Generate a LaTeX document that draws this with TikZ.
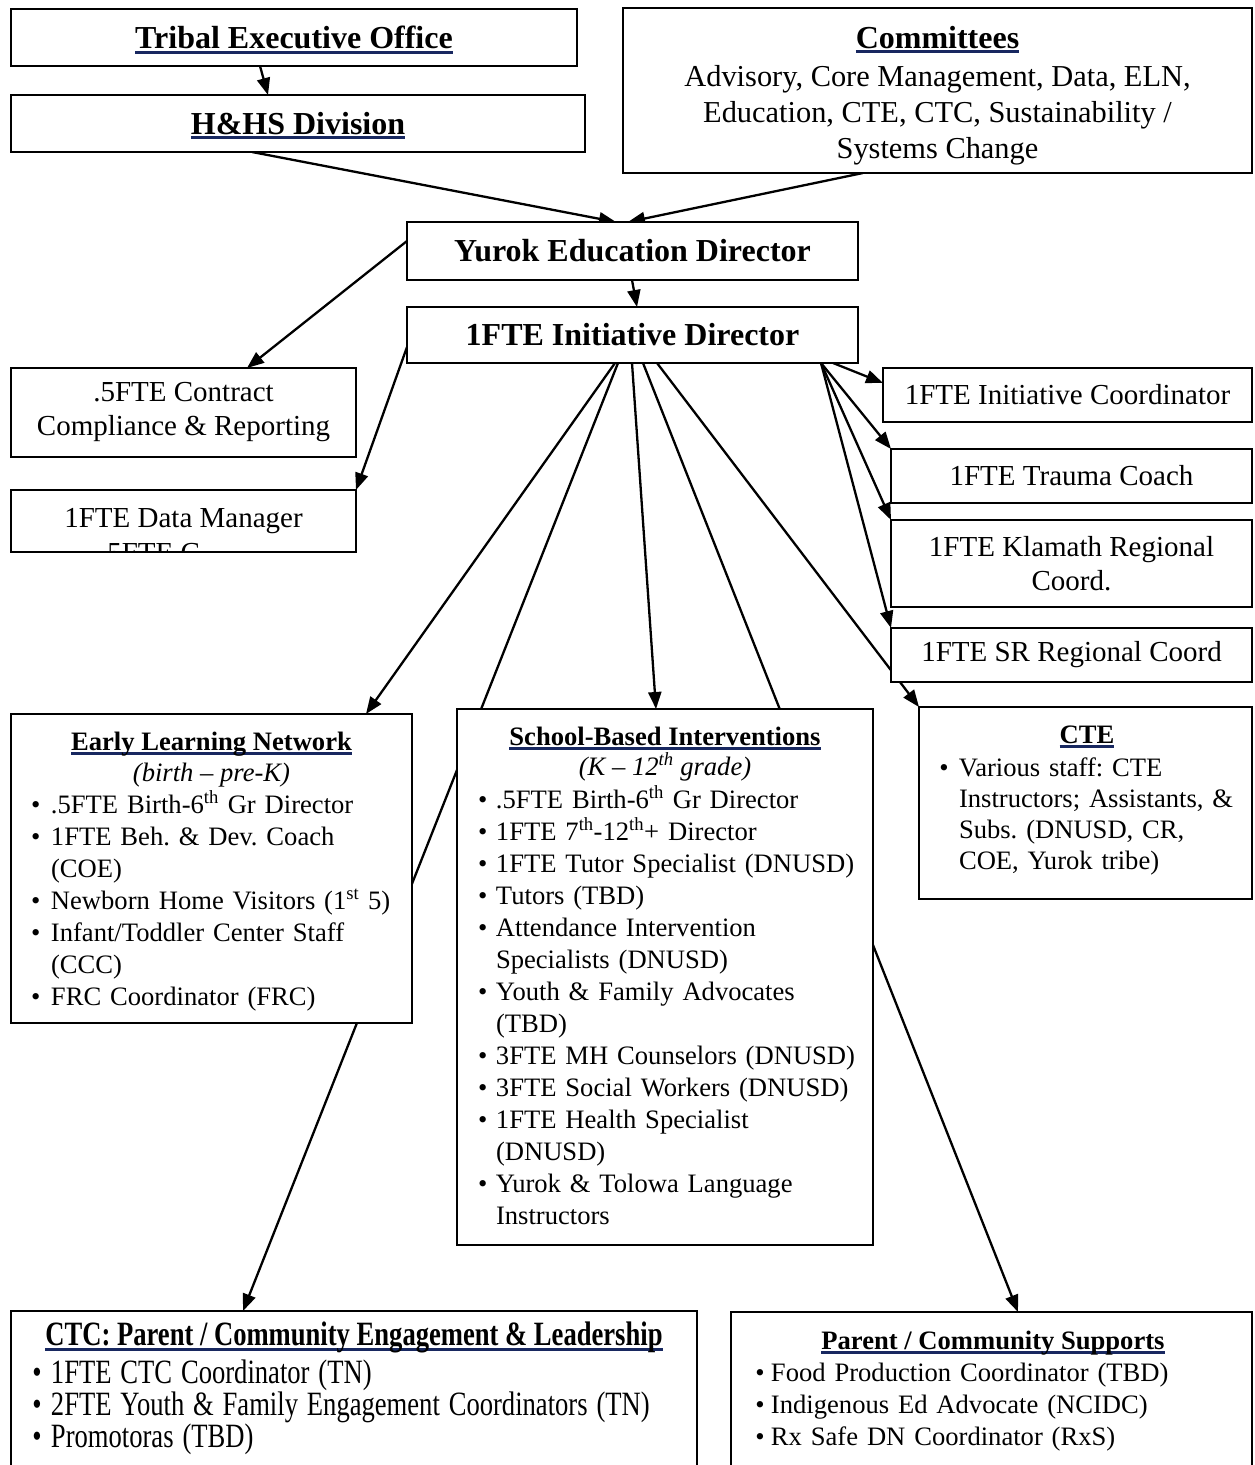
\documentclass[tikz,border=0pt]{standalone}
\usepackage{fontspec}
\setmainfont{Liberation Serif}
\usetikzlibrary{arrows.meta,backgrounds,calc}
\frenchspacing
\definecolor{navy}{RGB}{24,40,96}
\newlength\bw
\newsavebox\ulbox
\newcommand\bi[1]{\par\noindent\makebox[\bw][l]{\textbullet}#1\par}
\newcommand\bc[1]{\par\noindent\hspace*{\bw}#1\par}
\newcommand\ulc[2][5pt]{\mbox{\sbox\ulbox{#2}\raisebox{0pt}[0pt][0pt]{\rlap{\textcolor{navy}{\rule[-#1]{\wd\ulbox}{3pt}}}}\usebox\ulbox}}
\newcommand\fbody{\fontsize{26.6pt}{32pt}\selectfont\parskip=0pt\frenchspacing}
\newcommand\fbig{\fontsize{32pt}{38pt}\selectfont}
\newcommand\fmid{\fontsize{29pt}{34pt}\selectfont\frenchspacing}
\newcommand\fcom{\fontsize{30.4pt}{36pt}\selectfont\frenchspacing}
\newcommand\fcte{\fontsize{26.6pt}{31pt}\selectfont\parskip=0pt\frenchspacing}
\newcommand\fctc{\fontsize{26.6pt}{25pt}\selectfont\lineskiplimit=-100pt\parskip=0pt\frenchspacing}
\begin{document}
\begin{tikzpicture}[x=1pt,y=-1pt,
  bx/.style={draw, line width=1.8pt, fill=white, inner sep=0pt, outer sep=0pt, rectangle, align=center},
  arr/.style={-{Triangle[length=17pt,width=13pt]}, line width=2.3pt},
  txt/.style={inner sep=0pt, outer sep=0pt},
  lst/.style={inner sep=0pt, outer sep=0pt, anchor=north west}]
\useasboundingbox (0,0) rectangle (1254,1465);
\clip (0,0) rectangle (1254,1465);

% top boxes
\node[bx, minimum width=566pt, minimum height=57pt, font=\fbig\bfseries] (teo) at (294,37.5) {\ulc{Tribal Executive Office}};
\node[bx, minimum width=574pt, minimum height=57pt, font=\fbig\bfseries] (hhs) at (298,123.5) {\ulc{H\&HS Division}};
\node[bx, minimum width=629pt, minimum height=165pt] (com) at (937.5,90.5) {};
\node[txt, anchor=north, align=center, font=\fcom] (comT) at (937.5,24) {\rule{0pt}{24pt}{\fbig\bfseries\ulc{Committees}}\\[2pt]Advisory, Core Management, Data, ELN,\\Education, CTE, CTC, Sustainability /\\Systems Change};

\node[bx, minimum width=451pt, minimum height=58pt, font=\fbig\bfseries] (yed) at (632.5,251) {Yurok Education Director};
\node[bx, minimum width=451pt, minimum height=56pt, font=\fbig\bfseries] (idr) at (632.5,335) {1FTE Initiative Director};

% left small boxes
\node[bx, minimum width=345pt, minimum height=89pt, font=\fmid] (ccr) at (183.5,412.5) {.5FTE Contract\\Compliance \& Reporting};
\node[bx, minimum width=345pt, minimum height=62pt] (dm) at (183.5,521) {};
\begin{scope}
\clip (dm.south west) rectangle (dm.north east);
\node[txt, font=\fmid, anchor=base] (dmA) at (183.5,527) {1FTE Data Manager};
\node[txt, font=\fmid, anchor=base west] (dmB) at (100,562) {.5FTE C};
\end{scope}

% right small boxes
\node[bx, minimum width=369pt, minimum height=54pt, font=\fmid] (ic) at (1067.5,395) {1FTE Initiative Coordinator};
\node[bx, minimum width=361pt, minimum height=54pt, font=\fmid] (tc) at (1071.5,476) {1FTE Trauma Coach};
\node[bx, minimum width=361pt, minimum height=87pt, font=\fmid] (kr) at (1071.5,563.5) {1FTE Klamath Regional\\Coord.};
\node[bx, minimum width=361pt, minimum height=54pt, font=\fmid] (sr) at (1071.5,655) {1FTE SR Regional Coord};

% Early Learning Network
\node[bx, minimum width=401pt, minimum height=309pt] (eln) at (211.5,868.5) {};
\node[txt, anchor=north, align=center, font=\fbody] (elnT) at (211.5,726) {\rule{0pt}{24pt}{\bfseries\ulc[4.5pt]{Early Learning Network}}\\[-1pt]{\itshape (birth – pre-K)}};
\node[lst, text width=480pt, font=\fbody] (elnL) at (31,781) {\raggedright\setlength\bw{20pt}%
\bi{\rule{0pt}{24pt}.5FTE Birth-6\textsuperscript{th} Gr Director}%
\bi{1FTE Beh. \& Dev. Coach}\bc{(COE)}%
\bi{Newborn Home Visitors (1\textsuperscript{st} 5)}%
\bi{Infant/Toddler Center Staff}\bc{(CCC)}%
\bi{FRC Coordinator (FRC)}};

% School-Based Interventions
\node[bx, minimum width=416pt, minimum height=536pt] (sbi) at (665,977) {};
\node[txt, anchor=north, align=center, font=\fbody] (sbiT) at (665,721) {\rule{0pt}{24pt}{\bfseries\ulc[4.5pt]{School-Based Interventions}}\\[-2pt]{\itshape (K – 12\textsuperscript{th} grade)}};
\node[lst, text width=480pt, font=\fbody] (sbiL) at (478,776) {\raggedright\setlength\bw{18pt}%
\bi{\rule{0pt}{24pt}.5FTE Birth-6\textsuperscript{th} Gr Director}%
\bi{1FTE 7\textsuperscript{th}-12\textsuperscript{th}+ Director}%
\bi{1FTE Tutor Specialist (DNUSD)}%
\bi{Tutors (TBD)}%
\bi{Attendance Intervention}\bc{Specialists (DNUSD)}%
\bi{Youth \& Family Advocates}\bc{(TBD)}%
\bi{3FTE MH Counselors (DNUSD)}%
\bi{3FTE Social Workers (DNUSD)}%
\bi{1FTE Health Specialist}\bc{(DNUSD)}%
\bi{Yurok \& Tolowa Language}\bc{Instructors}};

% CTE
\node[bx, minimum width=333pt, minimum height=192pt] (cte) at (1085.5,803) {};
\node[txt, anchor=north, align=center, font=\fbody] (cteT) at (1087,719) {\rule{0pt}{24pt}{\bfseries\ulc[4.5pt]{CTE}}};
\node[lst, text width=400pt, font=\fcte] (cteL) at (939.4,745) {\raggedright\setlength\bw{19.6pt}%
\bi{\rule{0pt}{24pt}Various staff: CTE}\bc{Instructors; Assistants, \&}\bc{Subs. (DNUSD, CR,}\bc{COE, Yurok tribe)}};

% CTC
\node[bx, minimum width=686pt, minimum height=169pt] (ctc) at (354,1395.5) {};
\begin{scope}[yscale=1.28]
\node[txt, transform shape, anchor=north, align=center, font=\fbody] (ctcT) at (354,1027.3) {\rule{0pt}{24pt}{\bfseries\ulc[4.5pt]{CTC: Parent / Community Engagement \& Leadership}}};
\node[lst, transform shape, text width=700pt, font=\fctc] (ctcL) at (32.4,1055.5) {\raggedright\setlength\bw{18.6pt}%
\bi{\rule{0pt}{24pt}1FTE CTC Coordinator (TN)}%
\bi{2FTE Youth \& Family Engagement Coordinators (TN)}%
\bi{Promotoras (TBD)}};
\end{scope}

% Parent / Community Supports
\node[bx, minimum width=521pt, minimum height=168pt] (pcs) at (991.5,1396) {};
\node[txt, anchor=north, align=center, font=\fbody] (pcsT) at (993,1325) {\rule{0pt}{24pt}{\bfseries\ulc[4.5pt]{Parent / Community Supports}}};
\node[lst, text width=600pt, font=\fbody] (pcsL) at (755.4,1349) {\raggedright\setlength\bw{15.6pt}%
\bi{\rule{0pt}{24pt}Food Production Coordinator (TBD)}%
\bi{Indigenous Ed Advocate (NCIDC)}%
\bi{Rx Safe DN Coordinator (RxS)}};

% connectors
\begin{pgfonlayer}{background}
\draw[arr] ($(teo.south west)+(249,0)$) -- ($(hhs.north west)+(257,0)$);
\draw[arr] ($(hhs.south west)+(241,0)$) -- ($(yed.north west)+(209,0)$);
\draw[arr] ($(com.south west)+(240,0)$) -- ($(yed.north west)+(221,0)$);
\draw[arr] ($(yed.south west)+(225,0)$) -- ($(idr.north west)+(230,0)$);
\draw[arr] ($(yed.north west)+(0,19)$) -- ($(ccr.north west)+(236,0)$);
\draw[arr] ($(idr.north west)+(0,40)$) -- (dm.north east);
\draw[arr] ($(idr.south east)+(-25,0)$) -- ($(ic.north west)+(0,15)$);
\draw[arr] ($(idr.south east)+(-37,0)$) -- (tc.north west);
\draw[arr] ($(idr.south east)+(-37,0)$) -- (kr.north west);
\draw[arr] ($(idr.south east)+(-37,0)$) -- (sr.north west);
\draw[arr] ($(idr.south west)+(250,0)$) -- (cte.north west);
\draw[arr] ($(idr.south west)+(208,0)$) -- ($(eln.north west)+(355,0)$);
\draw[arr] ($(idr.south west)+(211,0)$) -- ($(ctc.north west)+(232,0)$);
\draw[arr] ($(idr.south west)+(225,0)$) -- ($(sbi.north west)+(199,0)$);
\draw[arr] ($(idr.south west)+(236,0)$) -- ($(pcs.north west)+(287,0)$);
\end{pgfonlayer}
\end{tikzpicture}
\end{document}
